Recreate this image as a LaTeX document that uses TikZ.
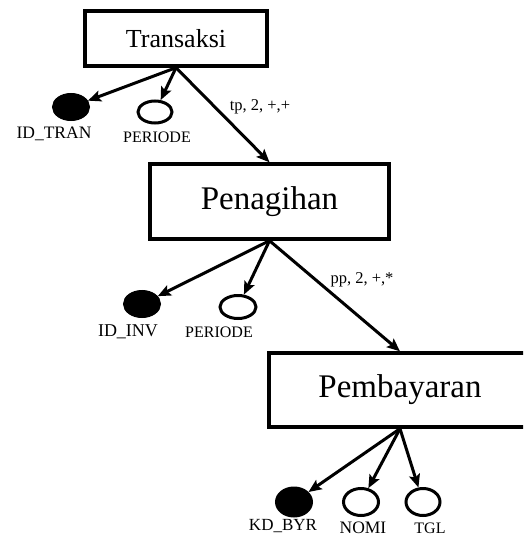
\documentclass[tikz,border=0pt]{standalone}
\usepackage{fontspec}
\setmainfont{Liberation Serif}
\usetikzlibrary{shapes.geometric,arrows.meta}
\begin{document}
\begin{tikzpicture}[x=1pt,y=-1pt,
  entity/.style={draw,line width=3.4pt,rectangle,inner sep=0pt},
  keyattr/.style={draw,fill=black,ellipse,line width=3pt,minimum width=35pt,minimum height=25pt,inner sep=0pt},
  attr/.style={draw,fill=white,ellipse,line width=3pt,minimum width=34pt,minimum height=22pt,inner sep=0pt},
  lbl/.style={inner sep=0pt,font=\fontsize{17}{17}\selectfont},
  elbl/.style={inner sep=0pt,font=\fontsize{16.5}{16.5}\selectfont},
  link/.style={line width=3pt,-{Stealth[length=13pt,width=11pt,inset=2.5pt]}}
]
\useasboundingbox (0,0) rectangle (523,538);
\clip (0,0) rectangle (523,538);

% entities
\node[entity,minimum width=182pt,minimum height=55pt,font=\fontsize{26}{26}\selectfont] (tr) at (176,38.5) {Transaksi};
\node[entity,minimum width=239pt,minimum height=75pt,font=\fontsize{33}{33}\selectfont] (pg) at (269.5,201.5) {Penagihan};
\node[entity,minimum width=262pt,minimum height=74pt,font=\fontsize{33}{33}\selectfont] (pb) at (400,390) {Pembayaran};

% attributes of Transaksi
\node[keyattr] (idtran) at (71,107) {};
\node[attr] (pertr) at (155,112) {};
\node[lbl,font=\fontsize{17.5}{17.5}\selectfont] (idtranL) at (54,134) {ID\_TRAN};
\node[lbl,font=\fontsize{16}{16}\selectfont] (pertrL) at (157,137) {PERIODE};

% attributes of Penagihan
\node[keyattr] (idinv) at (142,304) {};
\node[attr,minimum width=36pt,minimum height=23pt] (perpg) at (238,307) {};
\node[lbl,font=\fontsize{18}{18}\selectfont] (idinvL) at (128,332) {ID\_INV};
\node[lbl,font=\fontsize{16}{16}\selectfont] (perpgL) at (219,332) {PERIODE};

% attributes of Pembayaran
\node[keyattr,minimum height=28pt] (kdbyr) at (294,502) {};
\node[attr,minimum width=35pt,minimum height=27pt] (nomi) at (361,502) {};
\node[attr,minimum width=34pt,minimum height=27pt] (tgl) at (423,502) {};
\node[lbl] (kdbyrL) at (283,526) {KD\_BYR};
\node[lbl,font=\fontsize{17.5}{17.5}\selectfont] (nomiL) at (363,528) {NOMI};
\node[lbl,font=\fontsize{16}{16}\selectfont] (tglL) at (430,528) {TGL};

% links
\draw[link] (tr.south) -- (idtran);
\draw[link] (tr.south) -- (pertr);
\draw[link] (tr.south) -- (pg.north);
\draw[link] (pg.south) -- (idinv);
\draw[link] (pg.south) -- (perpg);
\draw[link] (pg.south) -- (pb.north);
\draw[link] (pb.south) -- (kdbyr);
\draw[link] (pb.south) -- (nomi);
\draw[link] (pb.south) -- (tgl);

% relationship labels
\node[elbl] (tpL) at (260,107) {tp, 2, +,+};
\node[elbl] (ppL) at (362,280) {pp, 2, +,*};
\end{tikzpicture}
\end{document}
